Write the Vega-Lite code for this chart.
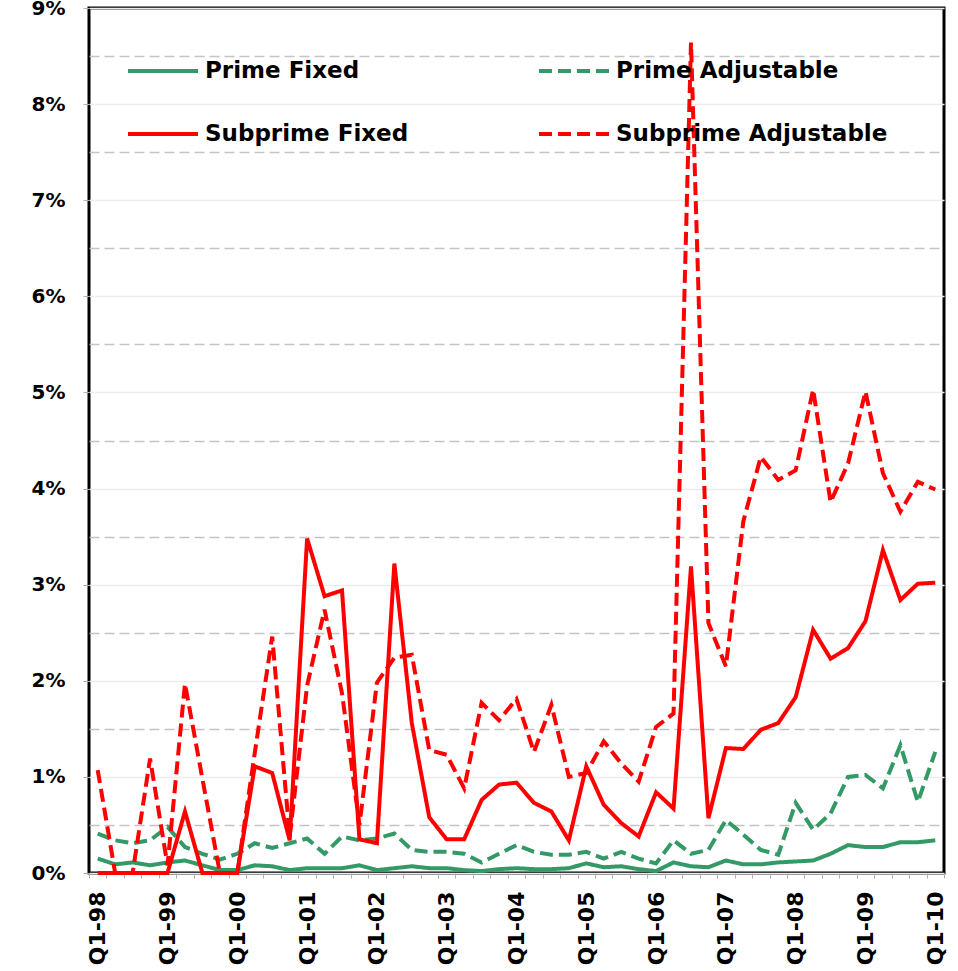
{
  "$schema": "https://vega.github.io/schema/vega-lite/v6.json",
  "width": 855,
  "height": 865,
  "autosize": {"type": "none"},
  "padding": {"left": 89, "top": 8, "right": 14, "bottom": 98},
  "background": "white",
  "config": {
    "view": {"stroke": "black", "strokeWidth": 3},
    "font": "DejaVu Sans"
  },
  "data": {
    "values": [
      {"q": "Q1-98", "pf": 0.15, "pa": 0.41, "sf": 0, "sa": 1.07},
      {"q": "Q2-98", "pf": 0.09, "pa": 0.34, "sf": 0, "sa": 0},
      {"q": "Q3-98", "pf": 0.11, "pa": 0.31, "sf": 0, "sa": 0},
      {"q": "Q4-98", "pf": 0.08, "pa": 0.34, "sf": 0, "sa": 1.19},
      {"q": "Q1-99", "pf": 0.11, "pa": 0.48, "sf": 0, "sa": 0.08},
      {"q": "Q2-99", "pf": 0.13, "pa": 0.27, "sf": 0.64, "sa": 1.97},
      {"q": "Q3-99", "pf": 0.08, "pa": 0.20, "sf": 0, "sa": 0.98},
      {"q": "Q4-99", "pf": 0.03, "pa": 0.14, "sf": 0, "sa": 0},
      {"q": "Q1-00", "pf": 0.03, "pa": 0.20, "sf": 0, "sa": 0},
      {"q": "Q2-00", "pf": 0.08, "pa": 0.31, "sf": 1.11, "sa": 1.25},
      {"q": "Q3-00", "pf": 0.07, "pa": 0.26, "sf": 1.04, "sa": 2.46},
      {"q": "Q4-00", "pf": 0.03, "pa": 0.31, "sf": 0.34, "sa": 0.38},
      {"q": "Q1-01", "pf": 0.05, "pa": 0.36, "sf": 3.48, "sa": 1.95},
      {"q": "Q2-01", "pf": 0.05, "pa": 0.20, "sf": 2.88, "sa": 2.74},
      {"q": "Q3-01", "pf": 0.05, "pa": 0.38, "sf": 2.94, "sa": 1.87},
      {"q": "Q4-01", "pf": 0.08, "pa": 0.34, "sf": 0.35, "sa": 0.50},
      {"q": "Q1-02", "pf": 0.03, "pa": 0.36, "sf": 0.31, "sa": 1.98},
      {"q": "Q2-02", "pf": 0.05, "pa": 0.41, "sf": 3.22, "sa": 2.24},
      {"q": "Q3-02", "pf": 0.07, "pa": 0.24, "sf": 1.56, "sa": 2.27},
      {"q": "Q4-02", "pf": 0.05, "pa": 0.22, "sf": 0.58, "sa": 1.28},
      {"q": "Q1-03", "pf": 0.05, "pa": 0.22, "sf": 0.35, "sa": 1.23},
      {"q": "Q2-03", "pf": 0.03, "pa": 0.20, "sf": 0.35, "sa": 0.88},
      {"q": "Q3-03", "pf": 0.02, "pa": 0.11, "sf": 0.76, "sa": 1.77},
      {"q": "Q4-03", "pf": 0.04, "pa": 0.20, "sf": 0.92, "sa": 1.59},
      {"q": "Q1-04", "pf": 0.05, "pa": 0.29, "sf": 0.94, "sa": 1.81},
      {"q": "Q2-04", "pf": 0.04, "pa": 0.22, "sf": 0.73, "sa": 1.26},
      {"q": "Q3-04", "pf": 0.04, "pa": 0.19, "sf": 0.64, "sa": 1.75},
      {"q": "Q4-04", "pf": 0.05, "pa": 0.19, "sf": 0.34, "sa": 1.00},
      {"q": "Q1-05", "pf": 0.10, "pa": 0.22, "sf": 1.11, "sa": 1.04},
      {"q": "Q2-05", "pf": 0.06, "pa": 0.15, "sf": 0.71, "sa": 1.37},
      {"q": "Q3-05", "pf": 0.07, "pa": 0.22, "sf": 0.52, "sa": 1.14},
      {"q": "Q4-05", "pf": 0.04, "pa": 0.15, "sf": 0.38, "sa": 0.95},
      {"q": "Q1-06", "pf": 0.02, "pa": 0.10, "sf": 0.84, "sa": 1.52},
      {"q": "Q2-06", "pf": 0.11, "pa": 0.34, "sf": 0.67, "sa": 1.66},
      {"q": "Q3-06", "pf": 0.07, "pa": 0.20, "sf": 3.19, "sa": 8.64},
      {"q": "Q4-06", "pf": 0.06, "pa": 0.24, "sf": 0.57, "sa": 2.60},
      {"q": "Q1-07", "pf": 0.13, "pa": 0.55, "sf": 1.30, "sa": 2.15},
      {"q": "Q2-07", "pf": 0.09, "pa": 0.40, "sf": 1.29, "sa": 3.66},
      {"q": "Q3-07", "pf": 0.09, "pa": 0.24, "sf": 1.49, "sa": 4.33},
      {"q": "Q4-07", "pf": 0.11, "pa": 0.19, "sf": 1.56, "sa": 4.09},
      {"q": "Q1-08", "pf": 0.12, "pa": 0.73, "sf": 1.83, "sa": 4.19},
      {"q": "Q2-08", "pf": 0.13, "pa": 0.45, "sf": 2.53, "sa": 5.03},
      {"q": "Q3-08", "pf": 0.20, "pa": 0.62, "sf": 2.23, "sa": 3.86},
      {"q": "Q4-08", "pf": 0.29, "pa": 1.00, "sf": 2.34, "sa": 4.26},
      {"q": "Q1-09", "pf": 0.27, "pa": 1.02, "sf": 2.62, "sa": 5.01},
      {"q": "Q2-09", "pf": 0.27, "pa": 0.88, "sf": 3.36, "sa": 4.16},
      {"q": "Q3-09", "pf": 0.32, "pa": 1.33, "sf": 2.84, "sa": 3.76},
      {"q": "Q4-09", "pf": 0.32, "pa": 0.74, "sf": 3.01, "sa": 4.07},
      {"q": "Q1-10", "pf": 0.34, "pa": 1.26, "sf": 3.02, "sa": 3.99}
    ]
  },
  "transform": [
    {"fold": ["pf", "pa", "sf", "sa"], "as": ["series", "v"]}
  ],
  "mark": {"type": "line", "strokeWidth": 4},
  "encoding": {
    "x": {
      "field": "q",
      "type": "ordinal",
      "sort": null,
      "scale": {"type": "band", "paddingInner": 0, "paddingOuter": 0},
      "axis": {
        "title": null,
        "domain": false,
        "grid": false,
        "tickBand": "extent",
        "tickColor": "#b0b0b0",
        "tickSize": 5,
        "tickWidth": 1,
        "labelAngle": -90,
        "labelAlign": "right",
        "labelBaseline": "middle",
        "labelPadding": 13,
        "labelFont": "DejaVu Sans",
        "labelFontSize": 22,
        "labelFontWeight": "bold",
        "labelColor": "black",
        "labelOverlap": false,
        "labelExpr": "indexof(datum.label + '', 'Q1') == 0 ? datum.label : ''"
      }
    },
    "y": {
      "field": "v",
      "type": "quantitative",
      "scale": {"domain": [0, 9], "nice": false, "zero": true},
      "axis": {
        "title": null,
        "domain": false,
        "values": [0, 0.5, 1, 1.5, 2, 2.5, 3, 3.5, 4, 4.5, 5, 5.5, 6, 6.5, 7, 7.5, 8, 8.5, 9],
        "grid": true,
        "gridColor": {"condition": {"test": "datum.value % 1 != 0", "value": "#c4c4c4"}, "value": "#ececec"},
        "gridDash": {"condition": {"test": "datum.value % 1 != 0", "value": [10, 5]}, "value": [1, 0]},
        "gridWidth": 1.5,
        "tickColor": "#b0b0b0",
        "tickOpacity": {"condition": {"test": "datum.value % 1 != 0", "value": 0}, "value": 1},
        "tickSize": 6,
        "labelPadding": 18,
        "labelFont": "DejaVu Sans",
        "labelFontSize": 20,
        "labelFontWeight": "bold",
        "labelColor": "black",
        "labelOverlap": false,
        "labelExpr": "datum.value % 1 == 0 ? datum.value + '%' : ''"
      }
    },
    "color": {
      "field": "series",
      "type": "nominal",
      "scale": {
        "domain": ["pf", "sf", "pa", "sa"],
        "range": ["#339966", "#ff0000", "#339966", "#ff0000"]
      },
      "legend": {
        "title": null,
        "orient": "none",
        "legendX": 37,
        "legendY": 26,
        "columns": 2,
        "columnPadding": 122,
        "rowPadding": 14,
        "symbolType": "stroke",
        "symbolSize": 4900,
        "symbolStrokeWidth": 4,
        "labelOffset": 5,
        "labelFont": "DejaVu Sans",
        "labelFontSize": 23,
        "labelFontWeight": "bold",
        "labelColor": "black",
        "labelLimit": 400,
        "labelExpr": "datum.value == 'pf' ? 'Prime Fixed' : datum.value == 'pa' ? 'Prime Adjustable' : datum.value == 'sf' ? 'Subprime Fixed' : 'Subprime Adjustable'"
      }
    },
    "strokeDash": {
      "field": "series",
      "type": "nominal",
      "scale": {
        "domain": ["pf", "sf", "pa", "sa"],
        "range": [[1, 0], [1, 0], [13, 6], [13, 6]]
      },
      "legend": {
        "title": null,
        "orient": "none",
        "legendX": 37,
        "legendY": 26,
        "columns": 2,
        "columnPadding": 122,
        "rowPadding": 14,
        "symbolType": "stroke",
        "symbolSize": 4900,
        "symbolStrokeWidth": 4,
        "labelOffset": 5,
        "labelFont": "DejaVu Sans",
        "labelFontSize": 23,
        "labelFontWeight": "bold",
        "labelColor": "black",
        "labelLimit": 400,
        "labelExpr": "datum.value == 'pf' ? 'Prime Fixed' : datum.value == 'pa' ? 'Prime Adjustable' : datum.value == 'sf' ? 'Subprime Fixed' : 'Subprime Adjustable'"
      }
    }
  }
}
